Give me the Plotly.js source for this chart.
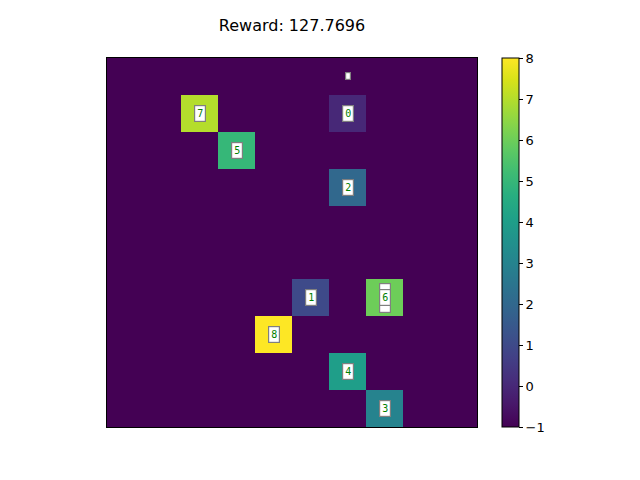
<!DOCTYPE html>
<html>
<head>
<meta charset="utf-8">
<script src="https://cdn.plot.ly/plotly-3.0.1.min.js"></script>
<style>html,body{margin:0;padding:0;background:#fff;}#chart{width:640px;height:480px;}</style>
</head>
<body>
<div id="chart"></div>
<script>
// Grid values (row 0 = top)
const gridValues = [
  [-1,-1,-1,-1,-1,-1,-1,-1,-1,-1],
  [-1,-1, 7,-1,-1,-1, 0,-1,-1,-1],
  [-1,-1,-1, 5,-1,-1,-1,-1,-1,-1],
  [-1,-1,-1,-1,-1,-1, 2,-1,-1,-1],
  [-1,-1,-1,-1,-1,-1,-1,-1,-1,-1],
  [-1,-1,-1,-1,-1,-1,-1,-1,-1,-1],
  [-1,-1,-1,-1,-1, 1,-1, 6,-1,-1],
  [-1,-1,-1,-1, 8,-1,-1,-1,-1,-1],
  [-1,-1,-1,-1,-1,-1, 4,-1,-1,-1],
  [-1,-1,-1,-1,-1,-1,-1, 3,-1,-1]
];
// Labels on cells
const labelCols = [6, 6, 2, 3, 6, 5, 7, 7, 4, 6, 7];
const labelRows = [0, 1, 1, 2, 3, 6, 6, 6, 7, 8, 9];
const labelTexts = ["", "0", "7", "5", "2", "1", "", "6", "8", "4", "3"];
const colorTicks = [-1, 0, 1, 2, 3, 4, 5, 6, 7, 8];
const titleText = "Reward: 127.7696";

const annotations = labelTexts.map((t, i) => {
  const empty = t === "";
  const big = empty && labelRows[i] === 6;
  return {
    x: labelCols[i], y: labelRows[i], xref: 'x', yref: 'y',
    text: empty ? (big ? '&nbsp;<br>&nbsp;' : '&nbsp;') : t,
    showarrow: false,
    font: {family: 'DejaVu Sans Mono, monospace', size: big ? 10 : (empty ? 3 : 10), color: 'green'},
    bgcolor: 'white', bordercolor: 'gray', borderwidth: 1.2, borderpad: empty ? (big ? 2 : 1) : 2,
    opacity: 1
  };
});

Plotly.newPlot('chart', [{
  type: 'heatmap',
  z: gridValues,
  colorscale: 'Viridis',
  zmin: -1, zmax: 8,
  showscale: true,
  xgap: 0, ygap: 0,
  hoverinfo: 'skip',
  colorbar: {
    x: 1.0676, xanchor: 'left', xref: 'paper',
    y: 0.5, yanchor: 'middle', len: 1, lenmode: 'fraction',
    thickness: 17, thicknessmode: 'pixels',
    outlinecolor: 'black', outlinewidth: 1,
    tickvals: colorTicks,
    ticks: 'outside', ticklen: 4, tickcolor: 'black',
    tickfont: {family: 'DejaVu Sans', size: 13, color: 'black'},
    xpad: 0, ypad: 0
  }
}], {
  width: 640, height: 480,
  margin: {l: 107, r: 163, t: 58, b: 53, pad: 0},
  paper_bgcolor: 'white', plot_bgcolor: 'white',
  title: {text: titleText, x: 292/640, xanchor: 'center', y: 1 - 25/480, yanchor: 'middle',
          font: {family: 'DejaVu Sans', size: 16, color: 'black'}},
  xaxis: {range: [-0.5, 9.5], showticklabels: false, ticks: '', showgrid: false, zeroline: false,
          showline: true, mirror: true, linecolor: 'black', linewidth: 1},
  yaxis: {range: [9.5, -0.5], showticklabels: false, ticks: '', showgrid: false, zeroline: false,
          showline: true, mirror: true, linecolor: 'black', linewidth: 1},
  annotations: annotations,
  showlegend: false
}, {displayModeBar: false, staticPlot: true});
</script>
</body>
</html>
